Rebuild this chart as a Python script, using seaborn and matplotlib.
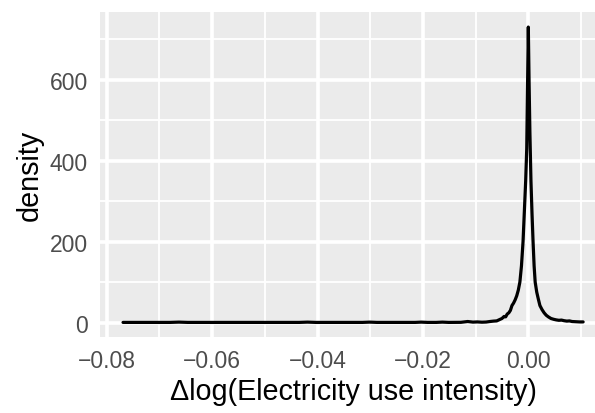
import matplotlib
matplotlib.use("Agg")
import matplotlib.pyplot as plt
import seaborn as sns
import pandas as pd
from matplotlib.ticker import MultipleLocator, FixedLocator, FixedFormatter

# Kernel density estimate of the year-on-year change in log electricity use intensity
change = [
    -0.0769, -0.0680, -0.0663, -0.0646, -0.0435, -0.0419, -0.0403, -0.0315,
    -0.0301, -0.0287, -0.0215, -0.0203, -0.0191, -0.0175, -0.0163, -0.0151,
    -0.0128, -0.0115, -0.0105, -0.0097, -0.0088, -0.0080, -0.0073, -0.0066,
    -0.0060, -0.0055, -0.0050, -0.0046, -0.0043, -0.0040, -0.0037, -0.0034,
    -0.0031, -0.0028, -0.0025, -0.0022, -0.0019, -0.0016, -0.0013, -0.0010,
    -0.0007, -0.0005, -0.0003, -0.00015, 0.0000, 0.00015, 0.0003, 0.0005,
    0.0007, 0.0009, 0.0011, 0.0013, 0.0016, 0.0019, 0.0022, 0.0026,
    0.0030, 0.0034, 0.0038, 0.0043, 0.0048, 0.0053, 0.0058, 0.0063,
    0.0068, 0.0073, 0.0078, 0.0083, 0.0090, 0.0097, 0.0104,
]
density = [
    0.3, 0.3, 1.0, 0.3, 0.3, 1.0, 0.3, 0.3,
    1.0, 0.3, 0.3, 1.0, 0.3, 0.3, 1.0, 0.3,
    0.5, 2.5, 1.0, 1.5, 0.8, 1.2, 2.5, 3.5,
    4.0, 7.0, 10.0, 15.0, 14.0, 21.0, 24.0, 30.0,
    42.0, 48.0, 56.0, 66.0, 80.0, 100.0, 140.0, 200.0,
    290.0, 350.0, 430.0, 580.0, 730.0, 590.0, 470.0, 350.0,
    270.0, 200.0, 140.0, 100.0, 75.0, 58.0, 42.0, 32.0,
    24.0, 18.0, 14.0, 10.0, 8.0, 6.5, 5.5, 6.0,
    4.5, 3.5, 4.0, 2.5, 2.0, 1.5, 1.5,
]

x_ticks = [-0.08, -0.06, -0.04, -0.02, 0.00]
x_labels = ["\u22120.08", "\u22120.06", "\u22120.04", "\u22120.02", "0.00"]
y_ticks = [0, 200, 400, 600]
y_labels = ["0", "200", "400", "600"]

sns.set_theme(style="darkgrid", rc={
    "axes.facecolor": "#EBEBEB",
    "figure.facecolor": "white",
    "grid.color": "white",
})
plt.rcParams["font.family"] = ["Liberation Sans", "DejaVu Sans"]

fig = plt.figure(figsize=(5.95, 4.14), dpi=100)
ax = fig.add_axes([100 / 595, (414 - 338.3) / 414, 506 / 595, 325 / 414])

df = pd.DataFrame({"change": change, "density": density})
sns.lineplot(data=df, x="change", y="density", color="black", linewidth=2.3,
             sort=False, estimator=None, ax=ax)

ax.set_xlim(-0.08127, 0.01474)
ax.set_ylim(-36.5, 766.5)

ax.xaxis.set_major_locator(FixedLocator(x_ticks))
ax.xaxis.set_major_formatter(FixedFormatter(x_labels))
ax.yaxis.set_major_locator(FixedLocator(y_ticks))
ax.yaxis.set_major_formatter(FixedFormatter(y_labels))
ax.xaxis.set_minor_locator(MultipleLocator(0.01))
ax.yaxis.set_minor_locator(MultipleLocator(100))

ax.set_axisbelow(True)
ax.grid(which="major", color="white", linewidth=2.6)
ax.grid(which="minor", color="white", linewidth=1.3)
for s in ax.spines.values():
    s.set_visible(False)

ax.tick_params(which="major", length=5.2, width=1.3, color="#333333",
               labelsize=16.5, labelcolor="#4D4D4D", pad=3.5)
ax.tick_params(which="minor", length=0)

ax.set_xlabel("\u0394log(Electricity use intensity)", fontsize=20.7,
              color="black", labelpad=3)
ax.set_ylabel("density", fontsize=20.7, color="black", labelpad=4)

fig.savefig("out.png", dpi=100)
